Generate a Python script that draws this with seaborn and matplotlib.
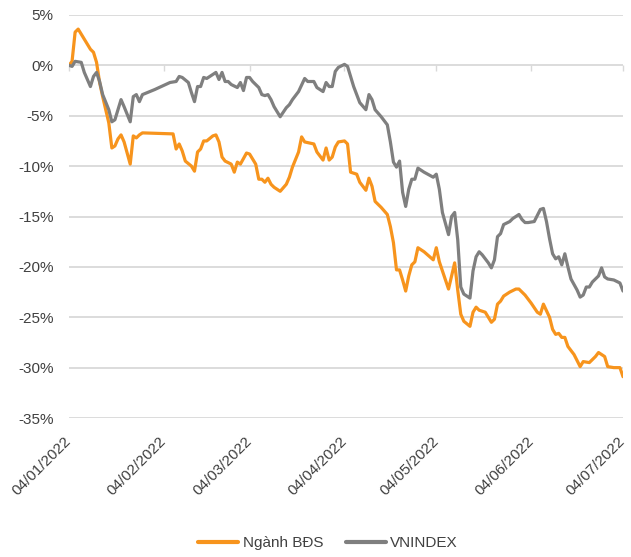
import pandas as pd
import seaborn as sns
import matplotlib.pyplot as plt
import matplotlib.dates as mdates
import matplotlib.ticker as mticker


# =============================================================================
# Data (% change since 04/01/2022)
# =============================================================================

bds_dates = [
    '2022-01-04', '2022-01-05', '2022-01-06', '2022-01-07', '2022-01-11', '2022-01-12',
    '2022-01-13', '2022-01-14', '2022-01-15', '2022-01-17', '2022-01-18', '2022-01-19',
    '2022-01-20', '2022-01-21', '2022-01-22', '2022-01-24', '2022-01-25', '2022-01-26',
    '2022-01-27', '2022-01-28', '2022-02-07', '2022-02-08', '2022-02-09', '2022-02-10',
    '2022-02-11', '2022-02-13', '2022-02-14', '2022-02-15', '2022-02-16', '2022-02-17',
    '2022-02-18', '2022-02-20', '2022-02-21', '2022-02-22', '2022-02-23', '2022-02-24',
    '2022-02-26', '2022-02-27', '2022-02-28', '2022-03-01', '2022-03-03', '2022-03-04',
    '2022-03-06', '2022-03-07', '2022-03-08', '2022-03-09', '2022-03-10', '2022-03-11',
    '2022-03-12', '2022-03-14', '2022-03-16', '2022-03-17', '2022-03-18', '2022-03-20',
    '2022-03-21', '2022-03-22', '2022-03-25', '2022-03-26', '2022-03-28', '2022-03-29',
    '2022-03-30', '2022-03-31', '2022-04-01', '2022-04-02', '2022-04-04', '2022-04-05',
    '2022-04-06', '2022-04-08', '2022-04-09', '2022-04-11', '2022-04-12', '2022-04-13',
    '2022-04-14', '2022-04-16', '2022-04-18', '2022-04-19', '2022-04-20', '2022-04-21',
    '2022-04-22', '2022-04-23', '2022-04-24', '2022-04-25', '2022-04-26', '2022-04-27',
    '2022-04-28', '2022-04-30', '2022-05-03', '2022-05-04', '2022-05-05', '2022-05-08',
    '2022-05-09', '2022-05-10', '2022-05-11', '2022-05-12', '2022-05-13', '2022-05-15',
    '2022-05-16', '2022-05-17', '2022-05-18', '2022-05-20', '2022-05-21', '2022-05-22',
    '2022-05-23', '2022-05-24', '2022-05-25', '2022-05-26', '2022-05-28', '2022-05-30',
    '2022-05-31', '2022-06-02', '2022-06-03', '2022-06-04', '2022-06-06', '2022-06-07',
    '2022-06-08', '2022-06-10', '2022-06-11', '2022-06-12', '2022-06-13', '2022-06-14',
    '2022-06-15', '2022-06-16', '2022-06-18', '2022-06-20', '2022-06-21', '2022-06-23',
    '2022-06-25', '2022-06-26', '2022-06-28', '2022-06-29', '2022-07-01', '2022-07-03',
    '2022-07-04',
]
bds_values = [
    0.0, 0.4, 3.3, 3.6, 1.6, 1.3,
    0.3, -1.7, -3.1, -5.7, -8.2, -8.0,
    -7.3, -6.9, -7.6, -9.8, -7.0, -7.2,
    -6.9, -6.7, -6.8, -8.3, -7.8, -8.5,
    -9.5, -10.0, -10.5, -8.6, -8.3, -7.5,
    -7.5, -7.0, -6.9, -7.6, -9.1, -9.5,
    -9.8, -10.6, -9.6, -9.8, -8.7, -8.8,
    -9.8, -11.3, -11.3, -11.6, -11.2, -11.8,
    -12.1, -12.5, -11.8, -11.1, -10.1, -8.6,
    -7.1, -7.6, -7.8, -8.6, -9.4, -8.2,
    -9.4, -9.1, -8.1, -7.6, -7.5, -7.8,
    -10.6, -10.8, -11.6, -12.4, -11.2, -12.0,
    -13.5, -14.1, -14.8, -16.0, -17.6, -20.3,
    -20.3, -21.3, -22.4, -20.9, -19.8, -19.5,
    -18.1, -18.5, -19.3, -18.1, -19.5, -22.2,
    -20.9, -19.6, -22.3, -24.7, -25.4, -25.9,
    -24.5, -24.0, -24.3, -24.5, -25.0, -25.5,
    -25.2, -23.7, -23.4, -22.9, -22.5, -22.2,
    -22.2, -22.8, -23.2, -23.6, -24.5, -24.7,
    -23.7, -25.0, -26.2, -26.7, -26.6, -27.0,
    -27.0, -27.9, -28.7, -29.9, -29.4, -29.5,
    -28.9, -28.5, -28.9, -29.9, -30.0, -30.0,
    -30.9,
]

vni_dates = [
    '2022-01-04', '2022-01-05', '2022-01-06', '2022-01-08', '2022-01-09', '2022-01-11',
    '2022-01-12', '2022-01-13', '2022-01-14', '2022-01-15', '2022-01-17', '2022-01-18',
    '2022-01-19', '2022-01-21', '2022-01-22', '2022-01-24', '2022-01-25', '2022-01-26',
    '2022-01-27', '2022-01-28', '2022-02-01', '2022-02-06', '2022-02-08', '2022-02-09',
    '2022-02-10', '2022-02-12', '2022-02-13', '2022-02-14', '2022-02-15', '2022-02-16',
    '2022-02-17', '2022-02-18', '2022-02-20', '2022-02-21', '2022-02-22', '2022-02-23',
    '2022-02-24', '2022-02-25', '2022-02-26', '2022-02-28', '2022-03-01', '2022-03-02',
    '2022-03-03', '2022-03-04', '2022-03-05', '2022-03-07', '2022-03-08', '2022-03-09',
    '2022-03-10', '2022-03-11', '2022-03-12', '2022-03-14', '2022-03-16', '2022-03-17',
    '2022-03-18', '2022-03-20', '2022-03-22', '2022-03-23', '2022-03-25', '2022-03-26',
    '2022-03-28', '2022-03-29', '2022-03-30', '2022-03-31', '2022-04-01', '2022-04-02',
    '2022-04-04', '2022-04-05', '2022-04-07', '2022-04-08', '2022-04-09', '2022-04-11',
    '2022-04-12', '2022-04-13', '2022-04-14', '2022-04-16', '2022-04-18', '2022-04-19',
    '2022-04-20', '2022-04-21', '2022-04-22', '2022-04-23', '2022-04-24', '2022-04-25',
    '2022-04-26', '2022-04-27', '2022-04-28', '2022-04-30', '2022-05-03', '2022-05-04',
    '2022-05-05', '2022-05-06', '2022-05-08', '2022-05-09', '2022-05-10', '2022-05-11',
    '2022-05-12', '2022-05-13', '2022-05-15', '2022-05-16', '2022-05-17', '2022-05-18',
    '2022-05-19', '2022-05-21', '2022-05-22', '2022-05-23', '2022-05-24', '2022-05-25',
    '2022-05-26', '2022-05-28', '2022-05-29', '2022-05-31', '2022-06-01', '2022-06-02',
    '2022-06-03', '2022-06-05', '2022-06-07', '2022-06-08', '2022-06-09', '2022-06-10',
    '2022-06-11', '2022-06-12', '2022-06-13', '2022-06-14', '2022-06-15', '2022-06-16',
    '2022-06-17', '2022-06-19', '2022-06-20', '2022-06-21', '2022-06-22', '2022-06-23',
    '2022-06-24', '2022-06-26', '2022-06-27', '2022-06-28', '2022-06-29', '2022-07-01',
    '2022-07-03', '2022-07-04',
]
vni_values = [
    0.0, -0.1, 0.4, 0.3, -0.7, -2.1,
    -1.1, -0.7, -1.6, -2.9, -4.4, -5.6,
    -5.4, -3.4, -4.1, -5.6, -3.1, -2.9,
    -3.6, -2.9, -2.4, -1.7, -1.6, -1.1,
    -1.2, -1.7, -2.7, -3.6, -2.1, -2.1,
    -1.2, -1.3, -0.9, -0.7, -1.4, -0.7,
    -1.6, -1.6, -1.9, -2.2, -1.7, -2.5,
    -1.2, -1.2, -1.6, -2.2, -2.9, -3.0,
    -2.9, -3.4, -4.1, -5.1, -4.2, -3.9,
    -3.4, -2.6, -1.3, -1.6, -1.6, -2.2,
    -2.6, -1.7, -2.1, -2.1, -0.6, -0.2,
    0.1, -0.1, -2.1, -2.9, -3.7, -4.4,
    -2.9, -3.4, -4.4, -5.1, -5.9, -7.6,
    -9.6, -10.1, -9.5, -12.6, -14.0, -12.3,
    -11.3, -11.3, -10.2, -10.6, -11.1, -10.8,
    -12.3, -14.6, -16.8, -15.0, -14.6, -17.3,
    -22.0, -22.7, -23.1, -20.4, -19.0, -18.5,
    -18.8, -19.6, -20.1, -19.3, -17.0, -16.7,
    -15.8, -15.5, -15.2, -14.8, -15.3, -15.6,
    -15.6, -15.5, -14.3, -14.2, -15.5, -17.2,
    -18.7, -19.2, -19.0, -19.8, -18.7, -20.0,
    -21.2, -22.3, -23.0, -22.8, -22.0, -22.0,
    -21.5, -20.9, -20.1, -21.0, -21.2, -21.3,
    -21.6, -22.4,
]

series_names = ['Ngành BĐS', 'VNINDEX']
tick_dates = ['2022-01-04', '2022-02-04', '2022-03-04', '2022-04-04',
              '2022-05-04', '2022-06-04', '2022-07-04']
tick_labels = ['04/01/2022', '04/02/2022', '04/03/2022', '04/04/2022',
               '04/05/2022', '04/06/2022', '04/07/2022']

df = pd.concat([
    pd.DataFrame({'date': pd.to_datetime(bds_dates), 'value': bds_values, 'series': series_names[0]}),
    pd.DataFrame({'date': pd.to_datetime(vni_dates), 'value': vni_values, 'series': series_names[1]}),
], ignore_index=True)


# =============================================================================
# Plot
# =============================================================================

sns.set_theme(style='white')
plt.rcParams['font.family'] = ['Liberation Sans', 'DejaVu Sans']

text_color = '#404040'
grid_color = '#d9d9d9'
palette = {series_names[0]: '#f7941d', series_names[1]: '#7f7f7f'}

fig = plt.figure(figsize=(6.31, 5.57), dpi=100)
ax = fig.add_axes([69 / 631, 1 - 418 / 557, (623 - 69) / 631, (418 - 15) / 557])

sns.lineplot(
    data=df,
    x='date',
    y='value',
    hue='series',
    hue_order=series_names,
    palette=palette,
    estimator=None,
    linewidth=2.3,
    ax=ax,
)

ax.set_xlim(pd.Timestamp(tick_dates[0]), pd.Timestamp(tick_dates[-1]))
ax.set_ylim(-35, 5)
ax.yaxis.set_major_locator(mticker.MultipleLocator(5))
ax.yaxis.set_major_formatter(mticker.FuncFormatter(lambda v, p: f'{v:.0f}%'))
ax.set_xlabel('')
ax.set_ylabel('')

ax.set_xticks(pd.to_datetime(tick_dates))
ax.set_xticklabels(tick_labels, rotation=45, ha='right', va='center', rotation_mode='anchor')

ax.tick_params(axis='x', length=0, pad=15, labelsize=11, colors=text_color)
ax.tick_params(axis='y', length=0, pad=11, labelsize=11, colors=text_color)

ax.yaxis.grid(True, color=grid_color, linewidth=1.3)
ax.xaxis.grid(False)
ax.set_axisbelow(True)
for side in ['top', 'right', 'left', 'bottom']:
    ax.spines[side].set_visible(False)

# the horizontal axis crosses at 0%: small tick marks hanging from that line
zero_axis = ax.secondary_xaxis(35 / 40)
zero_axis.set_xticks(mdates.date2num(pd.to_datetime(tick_dates)))
zero_axis.tick_params(axis='x', direction='in', length=4, width=1.0, color=grid_color,
                      labeltop=False, labelbottom=False)
for side in ['top', 'bottom']:
    zero_axis.spines[side].set_visible(False)

sns.move_legend(
    ax,
    'lower center',
    bbox_to_anchor=(0.52, -0.012),
    bbox_transform=fig.transFigure,
    ncol=2,
    title=None,
    frameon=False,
    fontsize=11,
    handlelength=2.6,
    columnspacing=1.5,
    handletextpad=0.3,
)
for line in ax.get_legend().get_lines():
    line.set_linewidth(3.0)
for txt in ax.get_legend().get_texts():
    txt.set_color(text_color)

fig.savefig('out.png', dpi=100)
